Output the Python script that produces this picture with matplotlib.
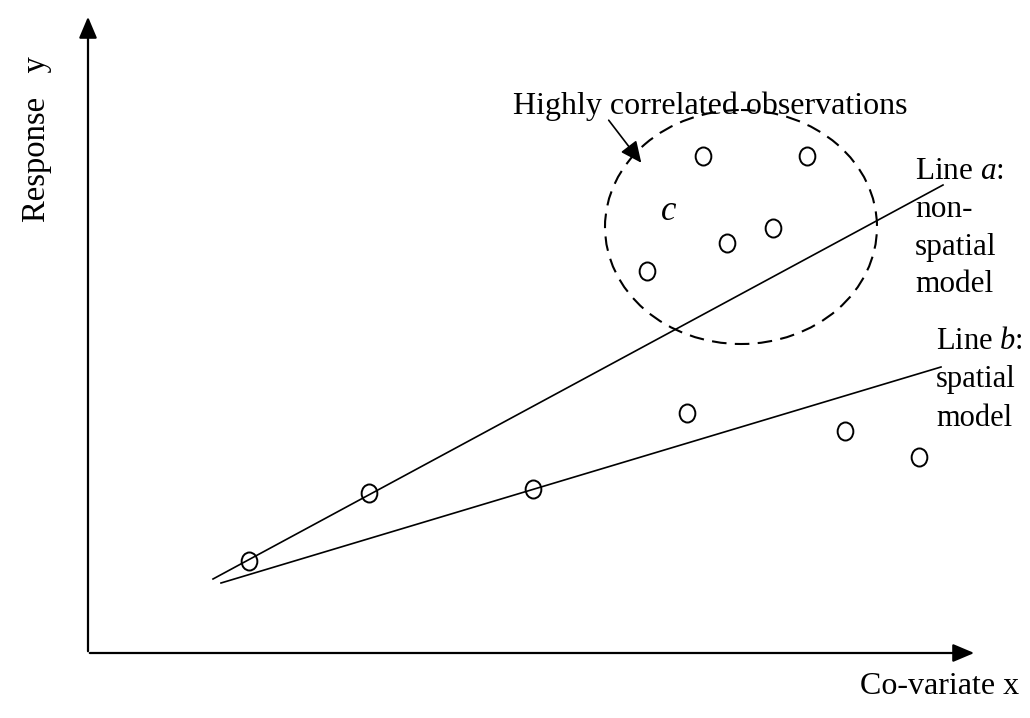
import matplotlib.pyplot as plt
from matplotlib.patches import Ellipse
from matplotlib.path import Path
from matplotlib.transforms import Affine2D

# observation points (schematic units, y grows downward like the original drawing)
obs_x = [249, 369, 533, 647, 687, 703, 727, 773, 807, 845, 919]
obs_y = [561, 493, 489, 271, 413, 156, 243, 228, 156, 431, 457]

# fitted lines: a = non-spatial, b = spatial
line_a_x, line_a_y = [213, 943], [579, 185]
line_b_x, line_b_y = [221, 941], [583, 367]

# cluster of highly correlated observations
clust_cx, clust_cy, clust_w, clust_h = 741, 227, 272, 234

plt.rcParams['font.family'] = ['Liberation Serif', 'DejaVu Serif']
plt.rcParams['mathtext.fontset'] = 'custom'
plt.rcParams['mathtext.it'] = 'Liberation Serif:italic'
plt.rcParams['mathtext.rm'] = 'Liberation Serif'

fig = plt.figure(figsize=(10.30, 7.18), dpi=100)
ax = fig.add_axes([0, 0, 1, 1])
ax.set_xlim(0, 1030)
ax.set_ylim(718, 0)
ax.axis('off')

# axes with arrows
head = '-|>,head_length=1.3,head_width=0.55'
ax.annotate('', xy=(977, 653), xytext=(87, 653),
            arrowprops=dict(arrowstyle=head, lw=1.6, color='k'))
ax.annotate('', xy=(88, 14), xytext=(88, 654),
            arrowprops=dict(arrowstyle=head, lw=1.6, color='k'))

ax.plot(line_a_x, line_a_y, color='k', lw=1.2)
ax.plot(line_b_x, line_b_y, color='k', lw=1.2)

# slightly tall oval markers, hollow
oval = Path(Affine2D().scale(0.87, 1.0).transform(Path.unit_circle().vertices),
            Path.unit_circle().codes)
ax.plot(obs_x, obs_y, ls='none', marker=oval, ms=13, mfc='none', mec='k', mew=1.4, zorder=3)

ax.add_patch(Ellipse((clust_cx, clust_cy), clust_w, clust_h, fill=False, ec='k', lw=1.5,
                     ls=(0, (7, 4)), zorder=2))

fs = 22.5
ax.text(710, 106, 'Highly correlated observations', fontsize=23, ha='center', va='center')
ax.annotate('', xy=(643, 165), xytext=(607, 118),
            arrowprops=dict(arrowstyle='-|>,head_length=1.3,head_width=0.6', lw=1.2, color='k'))
ax.text(669, 212, '$c$', fontsize=25, ha='center', va='center')

ax.text(915, 157, 'Line $a$:\nnon-\nspatial\nmodel', fontsize=fs, ha='left', va='top',
        linespacing=1.4)
ax.text(936, 327, 'Line $b$:\nspatial\nmodel', fontsize=22, ha='left', va='top',
        linespacing=1.43)

ax.text(940, 686, 'Co-variate x', fontsize=23, ha='center', va='center')
ax.text(37, 139, 'Response   y', fontsize=23.5, ha='center', va='center', rotation=90)

fig.savefig('out.png', dpi=100)
